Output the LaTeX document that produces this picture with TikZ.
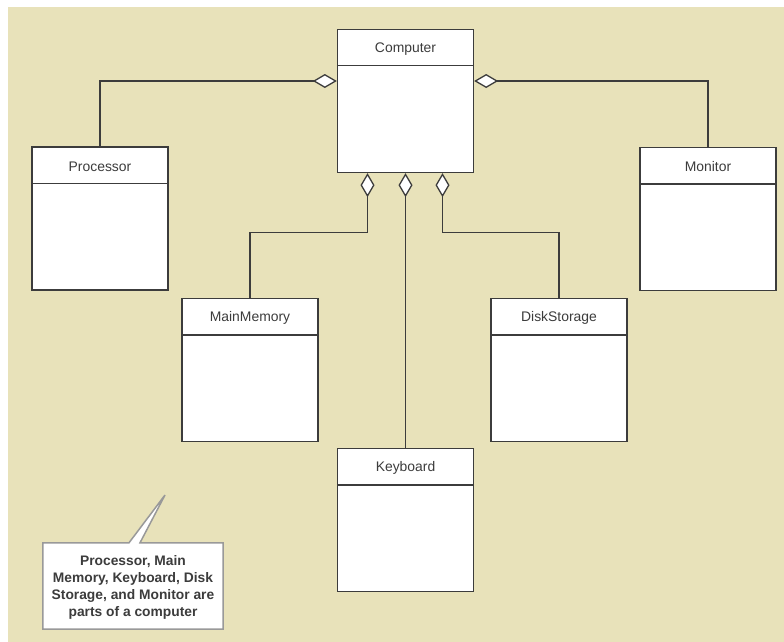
\documentclass[tikz,border=0pt]{standalone}
\usepackage{fontspec}
\setsansfont{Liberation Sans}
\usetikzlibrary{arrows.meta}

\definecolor{paper}{HTML}{E8E2BA}
\definecolor{ink}{HTML}{3C3C3C}

\tikzset{
  classbox/.style={draw=ink, fill=white, line width=1.3pt, minimum width=136pt, minimum height=143pt, inner sep=0pt},
  classname/.style={font=\sffamily\fontsize{13.9}{16}\selectfont, text=ink},
  agg/.style={draw=ink, line width=1.3pt, {Diamond[fill=white, length=24pt, width=14pt]}-},
  note/.style={font=\sffamily\bfseries\fontsize{13.8}{17}\selectfont, text=ink, align=center}
}

\begin{document}
\begin{tikzpicture}[x=1pt, y=-1pt]
  \useasboundingbox (0,0) rectangle (784,642);
  \fill[paper] (8,7) rectangle (784,642);

  % classes
  \node[classbox] (comp) at (405.5,101) {};
  \node[classbox] (proc) at (100,218.5) {};
  \node[classbox] (mon)  at (708,219) {};
  \node[classbox] (mem)  at (250,370) {};
  \node[classbox] (disk) at (559,370) {};
  \node[classbox] (keyb) at (405.5,520) {};

  \foreach \n/\t in {comp/Computer, proc/Processor, mon/Monitor, mem/MainMemory, disk/DiskStorage, keyb/Keyboard} {
    \draw[ink, line width=1.3pt] (\n.north west) ++(0,37) -- ++(136,0);
    \node[classname] (\n-name) at ([yshift=-20pt]\n.north) {\t};
  }

  % aggregation
  \draw[agg] ([yshift=20pt]comp.west) -| (proc.north);
  \draw[agg] ([yshift=20pt]comp.east) -| (mon.north);
  \draw[agg] ([xshift=-38pt]comp.south) -- ++(0,59) -| (mem.north);
  \draw[agg] (comp.south) -- (keyb.north);
  \draw[agg] ([xshift=37pt]comp.south) -- ++(0,59) -| (disk.north);

  % note
  \node[note, minimum width=180pt, minimum height=86pt] (txt) at (133,587.5)
    {Processor, Main\\Memory, Keyboard, Disk\\Storage, and Monitor are\\parts of a computer};
  \coordinate (tip) at (165,495);
  \filldraw[fill=white, draw=black!40, line width=1.5pt, line join=miter]
    ([yshift=1.5pt]txt.north west) -- ([xshift=-4pt, yshift=1.5pt]txt.north) -- (tip) -- ([xshift=7pt, yshift=1.5pt]txt.north)
    -- ([yshift=1.5pt]txt.north east) -- ([yshift=1.5pt]txt.south east) -- ([yshift=1.5pt]txt.south west) -- cycle;
  \node[note] at (txt.center)
    {Processor, Main\\Memory, Keyboard, Disk\\Storage, and Monitor are\\parts of a computer};
\end{tikzpicture}
\end{document}
